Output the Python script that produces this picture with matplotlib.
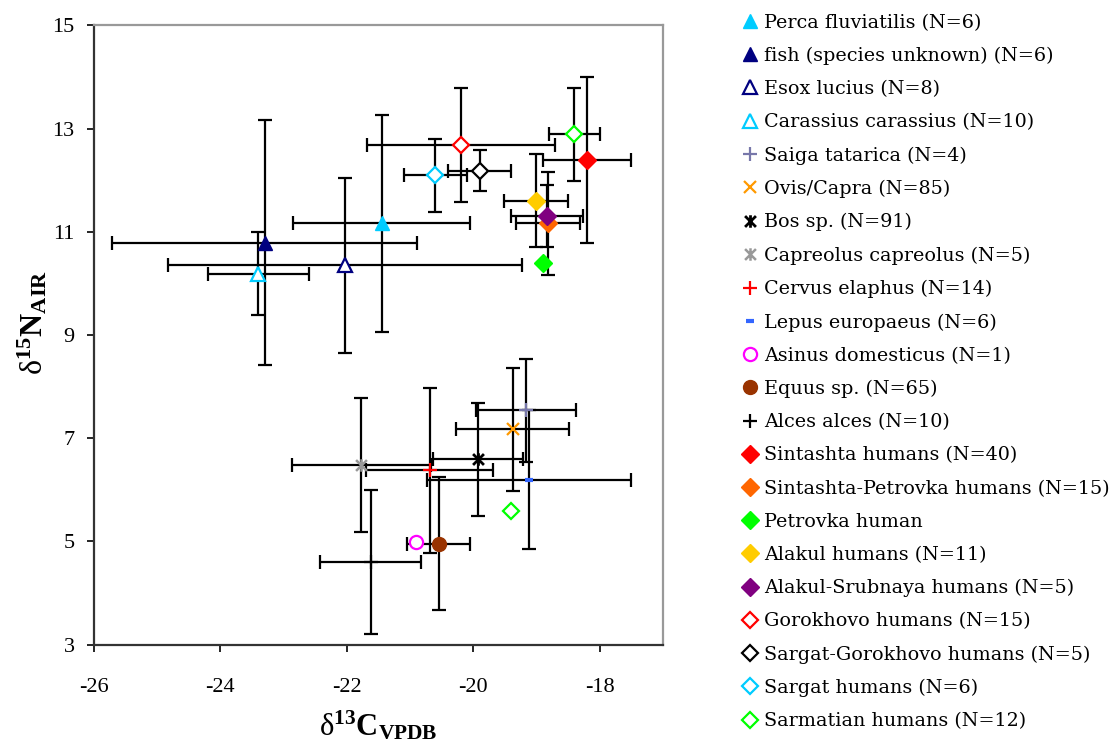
import matplotlib
matplotlib.use("Agg")
import matplotlib.pyplot as plt
from matplotlib.path import Path

plt.rcParams['mathtext.fontset'] = 'custom'
plt.rcParams['mathtext.rm'] = 'Liberation Serif'
plt.rcParams['mathtext.bf'] = 'Liberation Serif:bold'
plt.rcParams['mathtext.it'] = 'Liberation Serif:italic'

# ---- data (mean d13C, mean d15N, sd d13C, sd d15N) ----
labels = [
    "Perca fluviatilis (N=6)", "fish (species unknown) (N=6)", "Esox lucius (N=8)",
    "Carassius carassius (N=10)", "Saiga tatarica (N=4)", "Ovis/Capra (N=85)",
    "Bos sp. (N=91)", "Capreolus capreolus (N=5)", "Cervus elaphus (N=14)",
    "Lepus europaeus (N=6)", "Asinus domesticus (N=1)", "Equus sp. (N=65)",
    "Alces alces (N=10)", "Sintashta humans (N=40)", "Sintashta-Petrovka humans (N=15)",
    "Petrovka human", "Alakul humans (N=11)", "Alakul-Srubnaya humans (N=5)",
    "Gorokhovo humans (N=15)", "Sargat-Gorokhovo humans (N=5)", "Sargat humans (N=6)",
    "Sarmatian humans (N=12)",
]
d13c = [-21.45, -23.30, -22.03, -23.40, -19.16, -19.38, -19.93, -21.77, -20.69,
        -19.12, -20.90, -20.55, -21.62, -18.20, -18.82, -18.90, -19.01, -18.83,
        -20.19, -19.90, -20.60, -18.40]
d15n = [11.16, 10.79, 10.35, 10.19, 7.54, 7.17, 6.59, 6.48, 6.38,
        6.20, 4.99, 4.96, 4.60, 12.39, 11.16, 10.40, 11.60, 11.31,
        12.68, 12.18, 12.09, 12.89]
sd13c = [1.40, 2.41, 2.80, 0.80, 0.79, 0.90, 0.71, 1.10, 1.00,
         1.62, 0.0, 0.50, 0.80, 0.70, 0.50, 0.0, 0.50, 0.57,
         1.49, 0.50, 0.50, 0.40]
sd15n = [2.10, 2.37, 1.69, 0.80, 1.00, 1.20, 1.09, 1.30, 1.60,
         1.35, 0.0, 1.29, 1.40, 1.60, 1.00, 0.0, 0.90, 0.60,
         1.10, 0.40, 0.70, 0.90]
# extra Sarmatian individual (no error bars, not in legend)
extra_c, extra_n = [-19.40], [5.59]

xticks = [-26, -24, -22, -20, -18]
yticks = [3, 5, 7, 9, 11, 13, 15]

# ---- styles ----
star = Path([(-1, -1), (1, 1), (-1, 1), (1, -1), (0, -1.15), (0, 1.15)],
            [Path.MOVETO, Path.LINETO, Path.MOVETO, Path.LINETO, Path.MOVETO, Path.LINETO])
styles = [
    dict(marker='^', mfc='#00CCFF', mec='#00CCFF', ms=10),
    dict(marker='^', mfc='#000080', mec='#000080', ms=10),
    dict(marker='^', mfc='white', mec='#000080', ms=9.5, mew=1.6),
    dict(marker='^', mfc='white', mec='#00CCFF', ms=9.5, mew=1.6),
    dict(marker='+', mfc='none', mec='#7777AA', ms=10, mew=1.6),
    dict(marker='x', mfc='none', mec='#FF9900', ms=9, mew=1.6),
    dict(marker=star, mfc='none', mec='#000000', ms=9, mew=2.0),
    dict(marker=star, mfc='none', mec='#999999', ms=9, mew=1.8),
    dict(marker='+', mfc='none', mec='#FF0000', ms=10, mew=1.6),
    dict(marker='_', mfc='none', mec='#3366FF', ms=6, mew=3.0),
    dict(marker='o', mfc='white', mec='#FF00FF', ms=9.5, mew=1.6),
    dict(marker='o', mfc='#993300', mec='#993300', ms=10),
    dict(marker='+', mfc='none', mec='#000000', ms=10, mew=1.6),
    dict(marker='D', mfc='#FF0000', mec='#FF0000', ms=9.5),
    dict(marker='D', mfc='#FF6600', mec='#FF6600', ms=9.5),
    dict(marker='D', mfc='#00FF00', mec='#00FF00', ms=9.5),
    dict(marker='D', mfc='#FFCC00', mec='#FFCC00', ms=9.5),
    dict(marker='D', mfc='#800080', mec='#800080', ms=9.5),
    dict(marker='D', mfc='white', mec='#FF0000', ms=8.5, mew=1.6),
    dict(marker='D', mfc='white', mec='#000000', ms=8.5, mew=1.6),
    dict(marker='D', mfc='white', mec='#00CCFF', ms=8.5, mew=1.6),
    dict(marker='D', mfc='white', mec='#00FF00', ms=8.5, mew=1.6),
]

fig = plt.figure(figsize=(11.12, 7.43), dpi=100)
ax = fig.add_axes([0.0845, 0.1323, 0.5117, 0.8337])

handles = []
for i, lab in enumerate(labels):
    st = styles[i]
    xe = sd13c[i] if sd13c[i] > 0 else None
    ye = sd15n[i] if sd15n[i] > 0 else None
    ax.errorbar([d13c[i]], [d15n[i]], xerr=xe, yerr=ye, fmt='none',
                ecolor='black', elinewidth=1.6, capsize=4.7, capthick=1.6, zorder=2)
    ln, = ax.plot([d13c[i]], [d15n[i]], linestyle='none', zorder=3, label=lab, **st)
    handles.append(ln)

ax.plot(extra_c, extra_n, linestyle='none', zorder=3, **styles[-1])

ax.set_xlim(-26, -17)
ax.set_ylim(3, 15)
ax.set_xticks(xticks)
ax.set_yticks(yticks)
ax.set_xticklabels([str(v) for v in xticks])
ax.set_yticklabels([str(v) for v in yticks])
for lbl in ax.get_xticklabels() + ax.get_yticklabels():
    lbl.set_fontfamily('Liberation Serif')
    lbl.set_fontsize(16)
ax.tick_params(direction='out', length=5, width=1.2, colors='black')
ax.tick_params(axis='x', pad=19)
ax.tick_params(axis='y', pad=9)

for s in ['left', 'bottom']:
    ax.spines[s].set_color('#333333')
    ax.spines[s].set_linewidth(1.6)
for s in ['top', 'right']:
    ax.spines[s].set_color('#999999')
    ax.spines[s].set_linewidth(1.6)

ax.set_xlabel(r'$\mathrm{\delta}^{\mathbf{13}}\mathbf{C}_{\mathbf{VPDB}}$', fontsize=22)
ax.set_ylabel(r'$\mathrm{\delta}^{\mathbf{15}}\mathbf{N}_{\mathbf{AIR}}$', fontsize=23)
ax.xaxis.set_label_coords(0.5, -0.103)
ax.yaxis.set_label_coords(-0.079, 0.52)

leg = fig.legend(handles=handles, labels=labels, loc='upper left',
                 bbox_to_anchor=(0.6605, 0.992), frameon=False,
                 prop={'family': 'DejaVu Serif', 'size': 13.8},
                 handlelength=0.8, handletextpad=0.35, labelspacing=0.79,
                 borderaxespad=0, numpoints=1)

fig.savefig('out.png', dpi=100)
